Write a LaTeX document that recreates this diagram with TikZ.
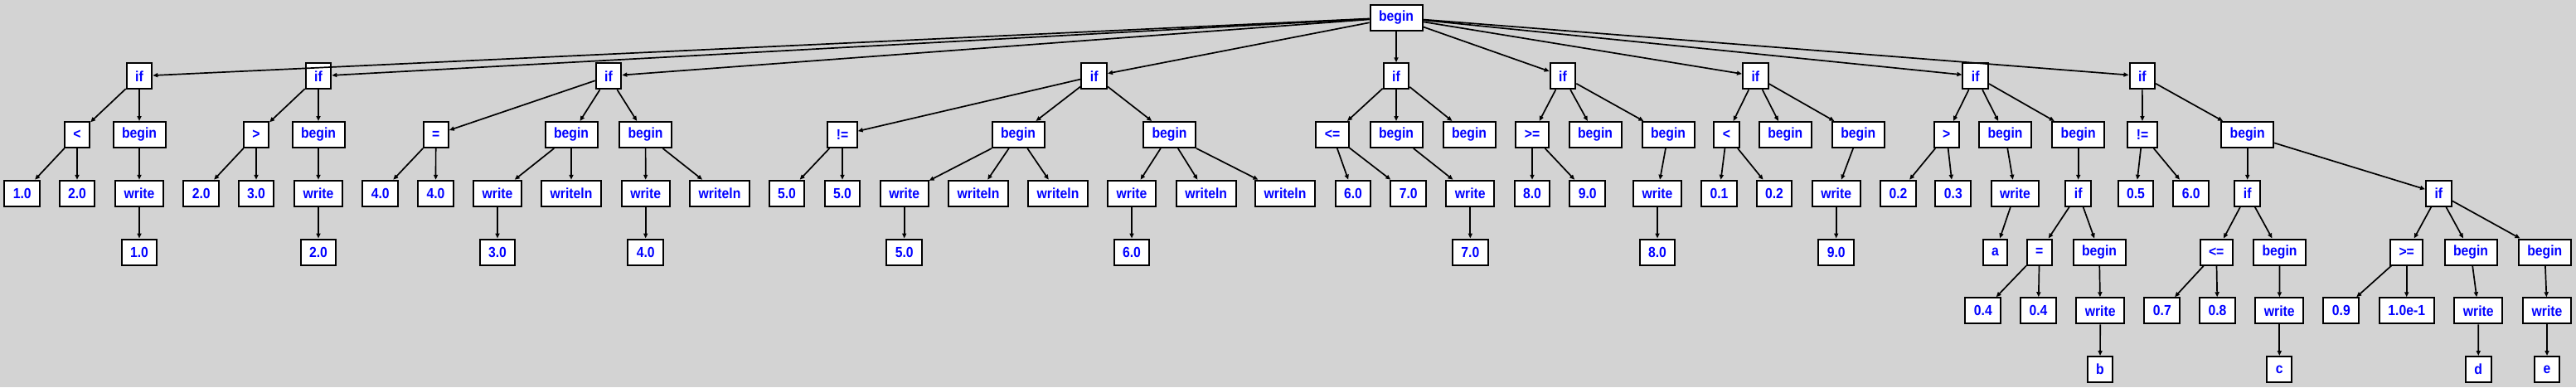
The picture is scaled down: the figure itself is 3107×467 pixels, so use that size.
\documentclass[tikz,border=0pt]{standalone}
\usepackage{fontspec}
\setmainfont{Liberation Sans}[FakeStretch=0.9]
\usetikzlibrary{arrows.meta}
\definecolor{bgray}{RGB}{211,211,211}
\definecolor{txtblue}{RGB}{0,0,255}
\begin{document}
\begin{tikzpicture}[x=1pt,y=-1pt,
  box/.style={draw=black, line width=2pt, fill=white, text=txtblue,
    font=\fontsize{17.5}{20}\bfseries\selectfont, inner xsep=10.5pt, inner ysep=0pt,
    minimum height=31pt, minimum width=28pt},
  edge/.style={draw=black, line width=1.7pt, -{Triangle[length=6pt,width=5pt]}}]
\fill[bgray] (0,0) rectangle (3107,467);
\useasboundingbox (0,0) rectangle (3107,467);
% level y: 21, 91.75, 162.5, 233.25, 304, 374.75, 445.5
\node[box] (r) at (1684,21) {begin};
% if 1
\node[box] (a1) at (168,91.75) {if};
\node[box] (a1c) at (93,162.5) {<};
\node[box] (a1b) at (168,162.5) {begin};
\node[box] (a1c1) at (26.7,233.25) {1.0};
\node[box] (a1c2) at (93,233.25) {2.0};
\node[box] (a1w) at (168,233.25) {write};
\node[box] (a1v) at (168,304) {1.0};
% if 2
\node[box] (a2) at (384,91.75) {if};
\node[box] (a2c) at (309,162.5) {>};
\node[box] (a2b) at (384,162.5) {begin};
\node[box] (a2c1) at (242.7,233.25) {2.0};
\node[box] (a2c2) at (309,233.25) {3.0};
\node[box] (a2w) at (384,233.25) {write};
\node[box] (a2v) at (384,304) {2.0};
% if 3
\node[box] (a3) at (734,91.75) {if};
\node[box] (a3c) at (525.7,162.5) {=};
\node[box] (a3b1) at (689,162.5) {begin};
\node[box] (a3b2) at (778.6,162.5) {begin};
\node[box] (a3c1) at (458.7,233.25) {4.0};
\node[box] (a3c2) at (525.5,233.25) {4.0};
\node[box] (a3b1w) at (600,233.25) {write};
\node[box] (a3b1v) at (600,304) {3.0};
\node[box] (a3b1l) at (689,233.25) {writeln};
\node[box] (a3b2w) at (778.7,233.25) {write};
\node[box] (a3b2v) at (778.7,304) {4.0};
\node[box] (a3b2l) at (868,233.25) {writeln};
% if 4
\node[box] (a4) at (1319.7,91.75) {if};
\node[box] (a4c) at (1016,162.5) {!=};
\node[box] (a4b1) at (1228,162.5) {begin};
\node[box] (a4b2) at (1410.5,162.5) {begin};
\node[box] (a4c1) at (949,233.25) {5.0};
\node[box] (a4c2) at (1016,233.25) {5.0};
\node[box] (a4b1w) at (1090.7,233.25) {write};
\node[box] (a4b1v) at (1090.7,304) {5.0};
\node[box] (a4b1l) at (1180,233.25) {writeln};
\node[box] (a4b1m) at (1276,233.25) {writeln};
\node[box] (a4b2w) at (1365,233.25) {write};
\node[box] (a4b2v) at (1365,304) {6.0};
\node[box] (a4b2l) at (1454.7,233.25) {writeln};
\node[box] (a4b2m) at (1550,233.25) {writeln};
% if 5
\node[box] (a5) at (1684,91.75) {if};
\node[box] (a5c) at (1607,162.5) {<=};
\node[box] (a5b1) at (1684,162.5) {begin};
\node[box] (a5b2) at (1772,162.5) {begin};
\node[box] (a5c1) at (1632,233.25) {6.0};
\node[box] (a5c2) at (1698.7,233.25) {7.0};
\node[box] (a5w) at (1773.3,233.25) {write};
\node[box] (a5v) at (1773.3,304) {7.0};
% if 6
\node[box] (a6) at (1885,91.75) {if};
\node[box] (a6c) at (1848,162.5) {>=};
\node[box] (a6b1) at (1924,162.5) {begin};
\node[box] (a6b2) at (2012,162.5) {begin};
\node[box] (a6c1) at (1848,233.25) {8.0};
\node[box] (a6c2) at (1914.7,233.25) {9.0};
\node[box] (a6w) at (1999,233.25) {write};
\node[box] (a6v) at (1999,304) {8.0};
% if 7
\node[box] (a7) at (2117.3,91.75) {if};
\node[box] (a7c) at (2082.5,162.5) {<};
\node[box] (a7b1) at (2153.3,162.5) {begin};
\node[box] (a7b2) at (2241.3,162.5) {begin};
\node[box] (a7c1) at (2073.5,233.25) {0.1};
\node[box] (a7c2) at (2140,233.25) {0.2};
\node[box] (a7w) at (2214.7,233.25) {write};
\node[box] (a7v) at (2214.7,304) {9.0};
% if 8
\node[box] (a8) at (2382.7,91.75) {if};
\node[box] (a8c) at (2347.8,162.5) {>};
\node[box] (a8b1) at (2418.5,162.5) {begin};
\node[box] (a8b2) at (2506.7,162.5) {begin};
\node[box] (a8c1) at (2289.5,233.25) {0.2};
\node[box] (a8c2) at (2355.8,233.25) {0.3};
\node[box] (a8w) at (2430.5,233.25) {write};
\node[box] (a8v) at (2406.5,304) {a};
\node[box] (a8i) at (2506.7,233.25) {if};
\node[box] (a8ic) at (2459.8,304) {=};
\node[box] (a8ib) at (2532,304) {begin};
\node[box] (a8ic1) at (2391.8,374.75) {0.4};
\node[box] (a8ic2) at (2458.5,374.75) {0.4};
\node[box] (a8iw) at (2533.2,374.75) {write};
\node[box] (a8iv) at (2533,445.5) {b};
% if 9
\node[box] (a9) at (2583.8,91.75) {if};
\node[box] (a9c) at (2584,162.5) {!=};
\node[box] (a9b) at (2710.7,162.5) {begin};
\node[box] (a9c1) at (2576,233.25) {0.5};
\node[box] (a9c2) at (2642.7,233.25) {6.0};
\node[box] (a9i1) at (2710.7,233.25) {if};
\node[box] (a9i2) at (2941.3,233.25) {if};
\node[box] (a9i1c) at (2673.2,304) {<=};
\node[box] (a9i1b) at (2749.5,304) {begin};
\node[box] (a9i1c1) at (2607.8,374.75) {0.7};
\node[box] (a9i1c2) at (2674.5,374.75) {0.8};
\node[box] (a9i1w) at (2749.3,374.75) {write};
\node[box] (a9i1v) at (2749.3,445.5) {c};
\node[box] (a9i2c) at (2902.7,304) {>=};
\node[box] (a9i2b1) at (2980,304) {begin};
\node[box] (a9i2b2) at (3069.3,304) {begin};
\node[box] (a9i2c1) at (2823.8,374.75) {0.9};
\node[box] (a9i2c2) at (2902.7,374.75) {1.0e-1};
\node[box] (a9i2b1w) at (2989.3,374.75) {write};
\node[box] (a9i2b1v) at (2989.2,445.5) {d};
\node[box] (a9i2b2w) at (3072,374.75) {write};
\node[box] (a9i2b2v) at (3072,445.5) {e};
% edges
\foreach \s/\t in {r/a1,r/a2,r/a3,r/a4,r/a5,r/a6,r/a7,r/a8,r/a9,
  a1/a1c,a1/a1b,a1c/a1c1,a1c/a1c2,a1b/a1w,a1w/a1v,
  a2/a2c,a2/a2b,a2c/a2c1,a2c/a2c2,a2b/a2w,a2w/a2v,
  a3/a3c,a3/a3b1,a3/a3b2,a3c/a3c1,a3c/a3c2,a3b1/a3b1w,a3b1w/a3b1v,a3b1/a3b1l,a3b2/a3b2w,a3b2w/a3b2v,a3b2/a3b2l,
  a4/a4c,a4/a4b1,a4/a4b2,a4c/a4c1,a4c/a4c2,a4b1/a4b1w,a4b1w/a4b1v,a4b1/a4b1l,a4b1/a4b1m,a4b2/a4b2w,a4b2w/a4b2v,a4b2/a4b2l,a4b2/a4b2m,
  a5/a5c,a5/a5b1,a5/a5b2,a5c/a5c1,a5c/a5c2,a5b1/a5w,a5w/a5v,
  a6/a6c,a6/a6b1,a6/a6b2,a6c/a6c1,a6c/a6c2,a6b2/a6w,a6w/a6v,
  a7/a7c,a7/a7b1,a7/a7b2,a7c/a7c1,a7c/a7c2,a7b2/a7w,a7w/a7v,
  a8/a8c,a8/a8b1,a8/a8b2,a8c/a8c1,a8c/a8c2,a8b1/a8w,a8w/a8v,a8b2/a8i,a8i/a8ic,a8i/a8ib,a8ic/a8ic1,a8ic/a8ic2,a8ib/a8iw,a8iw/a8iv,
  a9/a9c,a9/a9b,a9c/a9c1,a9c/a9c2,a9b/a9i1,a9b/a9i2,a9i1/a9i1c,a9i1/a9i1b,a9i1c/a9i1c1,a9i1c/a9i1c2,a9i1b/a9i1w,a9i1w/a9i1v,
  a9i2/a9i2c,a9i2/a9i2b1,a9i2/a9i2b2,a9i2c/a9i2c1,a9i2c/a9i2c2,a9i2b1/a9i2b1w,a9i2b1w/a9i2b1v,a9i2b2/a9i2b2w,a9i2b2w/a9i2b2v}
  \draw[edge] (\s) -- (\t);
\end{tikzpicture}
\end{document}
